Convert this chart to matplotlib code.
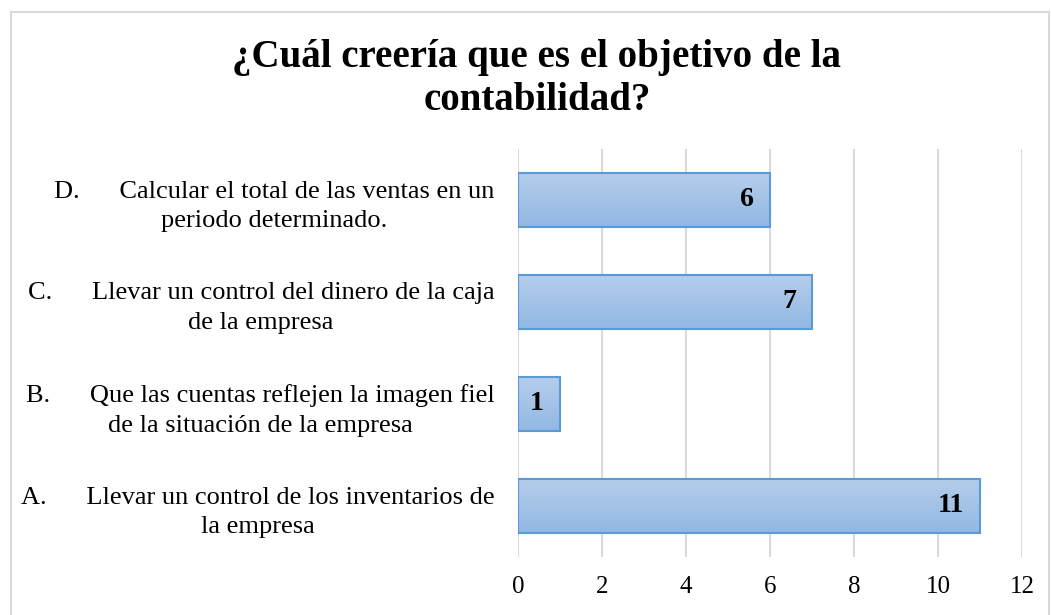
import numpy as np
import matplotlib.pyplot as plt
from matplotlib.patches import Rectangle
from matplotlib.colors import LinearSegmentedColormap

plt.rcParams['font.family'] = ['Liberation Serif', 'DejaVu Serif']

categories = [
    'A.      Llevar un control de los inventarios de\nla empresa',
    'B.      Que las cuentas reflejen la imagen fiel\nde la situación de la empresa',
    'C.      Llevar un control del dinero de la caja\nde la empresa',
    'D.      Calcular el total de las ventas en un\nperiodo determinado.',
]
values = [11, 1, 7, 6]
x_ticks = [0, 2, 4, 6, 8, 10, 12]
title = '¿Cuál creería que es el objetivo de la\ncontabilidad?'

W, H = 1051, 615
fig = plt.figure(figsize=(W / 100, H / 100), dpi=100)
ax = fig.add_axes([518 / W, 1 - 557 / H, (1022 - 518) / W, (557 - 149) / H])

# outer chart border
fig.patches.append(Rectangle((11 / W, -0.01), (1049 - 11) / W, 1 - 12 / H + 0.01,
                             transform=fig.transFigure, fill=False,
                             edgecolor='#d9d9d9', linewidth=1.5))

ypos = np.arange(len(categories))
bars = ax.barh(ypos, values, height=0.52, color='none', edgecolor='#5b9bd5',
               linewidth=1.5, zorder=3)

# vertical gradient fill inside each bar (lighter at top)
grad = np.linspace(0, 1, 100).reshape(-1, 1)
cmap = LinearSegmentedColormap.from_list('g', ['#b5cdeb', '#92b8e3'])
for b in bars:
    x0, y0 = b.get_x(), b.get_y()
    w, h = b.get_width(), b.get_height()
    ax.imshow(grad, cmap=cmap, aspect='auto', extent=(x0, x0 + w, y0, y0 + h),
              origin='upper', zorder=2, interpolation='bicubic')

for b, v in zip(bars, values):
    ax.annotate(str(v), (b.get_width(), b.get_y() + b.get_height() / 2),
                xytext=(-16, 0), textcoords='offset pixels', ha='right', va='center',
                fontsize=20, fontweight='bold', color='black', zorder=4)

ax.set_xlim(0, 12)
ax.set_ylim(-0.5, len(categories) - 0.5)
ax.set_xticks(x_ticks)
ax.set_xticklabels([str(t) for t in x_ticks], fontsize=18)
ax.set_yticks(ypos)
ax.set_yticklabels(categories, fontsize=19, multialignment='center', linespacing=1.45)
ax.tick_params(axis='both', length=0)
ax.tick_params(axis='x', pad=14)
ax.tick_params(axis='y', pad=17)
ax.grid(axis='x', color='#d9d9d9', linewidth=1.5, zorder=0)
ax.set_axisbelow(True)
for s in ax.spines.values():
    s.set_visible(False)

fig.text(537 / W, 1 - 79 / H, title, ha='center', va='center', fontsize=28,
         fontweight='bold', linespacing=1.25)

fig.savefig('out.png', dpi=100)
